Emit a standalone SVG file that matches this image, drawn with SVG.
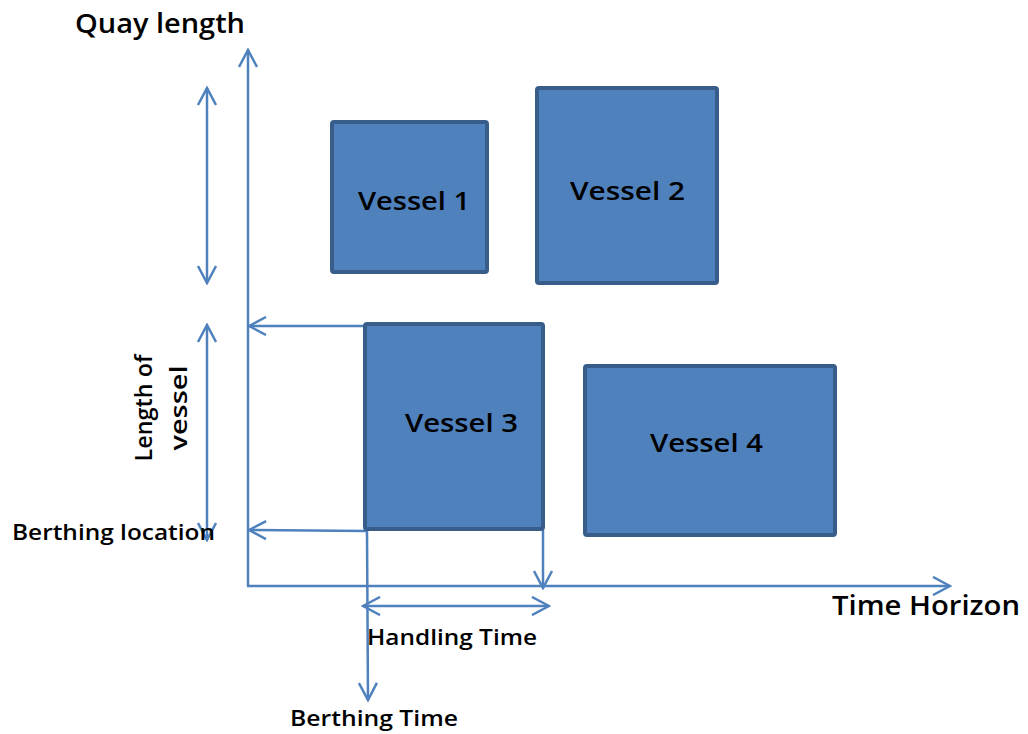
<svg xmlns="http://www.w3.org/2000/svg" width="1028" height="734" viewBox="0 0 1028 734">
<style>
.ln{stroke:#4f81bd;stroke-width:2.5;fill:none}
.v{fill:#4f81bd;stroke:#385d8a;stroke-width:4}
.t{font-family:"Open Sans","Liberation Sans",sans-serif;font-weight:600;fill:#000}
.vt{font-family:"Open Sans","Liberation Sans",sans-serif;font-weight:600;font-size:25px;fill:#000}
</style>
<defs>
<marker id="ah" viewBox="0 0 20 20" refX="18" refY="10" markerWidth="20" markerHeight="20" markerUnits="userSpaceOnUse" orient="auto-start-reverse">
<polyline points="1,1 18,10 1,19" fill="none" stroke="#4f81bd" stroke-width="2.5"/>
</marker>
</defs>
<g id="connectors">
<line class="ln" x1="248" y1="586" x2="248" y2="50" marker-end="url(#ah)"/>
<line class="ln" x1="247" y1="586" x2="950" y2="586" marker-end="url(#ah)"/>
<line class="ln" x1="207" y1="88" x2="207" y2="283" marker-start="url(#ah)" marker-end="url(#ah)"/>
<line class="ln" x1="207" y1="325" x2="207" y2="540" marker-start="url(#ah)" marker-end="url(#ah)"/>
<line class="ln" x1="365" y1="326" x2="249" y2="326" marker-end="url(#ah)"/>
<line class="ln" x1="366" y1="531" x2="249" y2="530" marker-end="url(#ah)"/>
<line class="ln" x1="367" y1="531" x2="368" y2="700" marker-end="url(#ah)"/>
<line class="ln" x1="543" y1="530" x2="543" y2="588" marker-end="url(#ah)"/>
<line class="ln" x1="363" y1="606" x2="549" y2="606" marker-start="url(#ah)" marker-end="url(#ah)"/>
</g>
<g id="vessel1"><rect class="v" x="332" y="122" width="155" height="150" rx="2"/><text class="vt" x="358" y="210" textLength="112" lengthAdjust="spacingAndGlyphs">Vessel  1</text></g>
<g id="vessel2"><rect class="v" x="537" y="88" width="180" height="195" rx="2"/><text class="vt" x="570" y="200" textLength="115" lengthAdjust="spacingAndGlyphs">Vessel  2</text></g>
<g id="vessel3"><rect class="v" x="365" y="324" width="178" height="205" rx="2"/><text class="vt" x="405" y="432" textLength="113" lengthAdjust="spacingAndGlyphs">Vessel  3</text></g>
<g id="vessel4"><rect class="v" x="585" y="366" width="250" height="169" rx="2"/><text class="vt" x="650" y="452" textLength="113" lengthAdjust="spacingAndGlyphs">Vessel  4</text></g>
<g id="labels">
<text class="t" x="75" y="33" font-size="27" textLength="170" lengthAdjust="spacingAndGlyphs">Quay length</text>
<text class="t" x="832" y="615" font-size="27" textLength="188" lengthAdjust="spacingAndGlyphs">Time Horizon</text>
<text class="t" x="12" y="540" font-size="21" textLength="203" lengthAdjust="spacingAndGlyphs">Berthing location</text>
<text class="t" x="367" y="645" font-size="21" textLength="170" lengthAdjust="spacingAndGlyphs">Handling Time</text>
<text class="t" x="290" y="726" font-size="21" textLength="168" lengthAdjust="spacingAndGlyphs">Berthing Time</text>
<g transform="translate(152,408) rotate(-90)"><text class="t" x="0" y="0" font-size="23" text-anchor="middle" textLength="107" lengthAdjust="spacingAndGlyphs">Length of</text></g>
<g transform="translate(187,408) rotate(-90)"><text class="t" x="0" y="0" font-size="23" text-anchor="middle" textLength="85" lengthAdjust="spacingAndGlyphs">vessel</text></g>
</g>
</svg>
